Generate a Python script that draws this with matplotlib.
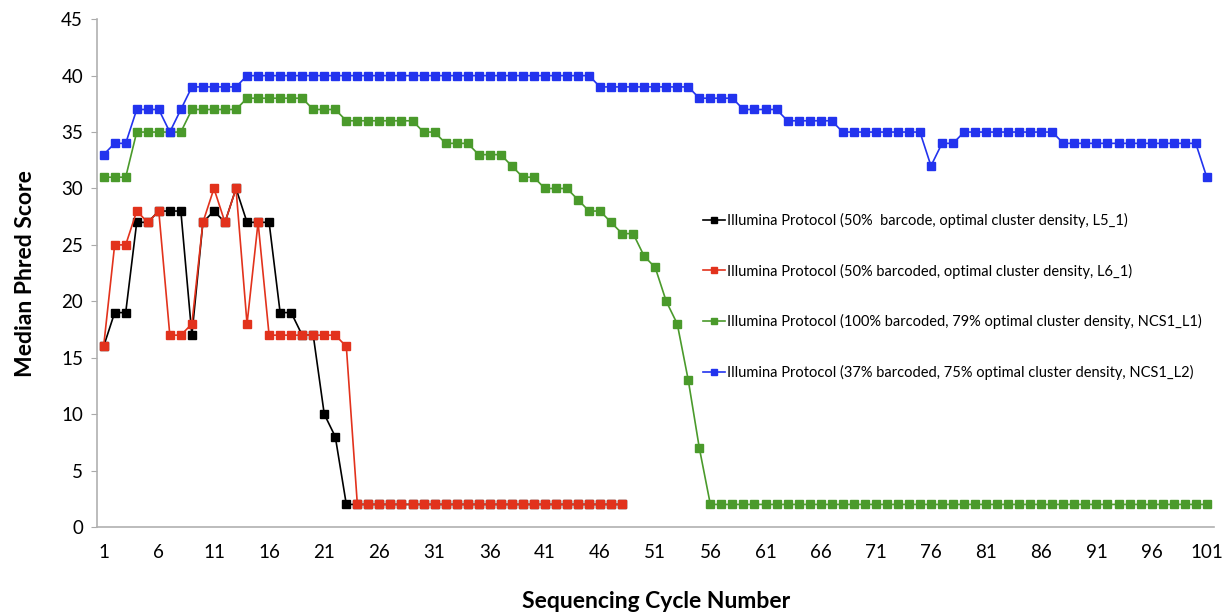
import numpy as np
import matplotlib; matplotlib.use("Agg")
import matplotlib.pyplot as plt

plt.rcParams["font.family"] = ["Lato", "DejaVu Sans"]

cycles = np.arange(1, 102)

# L5_1 (black) and L6_1 (red) stop at cycle 48
l5_1 = [16, 19, 19, 27, 27, 28, 28, 28, 17, 27, 28, 27, 30, 27, 27, 27, 19, 19, 17, 17,
        10, 8, 2] + [2] * 25
l6_1 = [16, 25, 25, 28, 27, 28, 17, 17, 18, 27, 30, 27, 30, 18, 27, 17, 17, 17, 17, 17,
        17, 17, 16] + [2] * 25
ncs1_l1 = ([31, 31, 31, 35, 35, 35, 35, 35, 37, 37, 37, 37, 37] + [38] * 6 + [37] * 3
           + [36] * 7 + [35, 35, 34, 34, 34, 33, 33, 33, 32, 31, 31, 30, 30, 30, 29, 28, 28,
                         27, 26, 26, 24, 23, 20, 18, 13, 7] + [2] * 46)
ncs1_l2 = ([33, 34, 34, 37, 37, 37, 35, 37, 39, 39, 39, 39, 39] + [40] * 32 + [39] * 9
           + [38] * 4 + [37] * 4 + [36] * 5 + [35] * 8 + [32, 34, 34] + [35] * 9
           + [34] * 13 + [31])

labels = ["Illumina Protocol (50%  barcode, optimal cluster density, L5_1)",
          "Illumina Protocol (50% barcoded, optimal cluster density, L6_1)",
          "Illumina Protocol (100% barcoded, 79% optimal cluster density, NCS1_L1)",
          "Illumina Protocol (37% barcoded, 75% optimal cluster density, NCS1_L2)"]
colors = ["#000000", "#e2321c", "#4a9a2b", "#2233ee"]
series = [l5_1, l6_1, ncs1_l1, ncs1_l2]

fig = plt.figure(figsize=(12.28, 6.14), dpi=100)
ax = fig.add_axes([0.079, 0.1417, 0.91, 0.827])

# draw order: blue, green, black, red (red on top like the original)
for i in (3, 2, 0, 1):
    ys = series[i]
    ax.plot(cycles[:len(ys)], ys, color=colors[i], lw=1.2, marker="s", ms=5.5,
            label=labels[i], zorder=3 + i)

ax.set_xlim(0.4, 101.7)
ax.set_ylim(0, 45)
ax.set_xticks(np.arange(1, 102, 5))
ax.set_yticks(np.arange(0, 46, 5))
ax.tick_params(axis="x", length=0, labelsize=13.5, pad=12)
ax.tick_params(axis="y", length=4, color="#aaaaaa", labelsize=13.5, pad=6)
for s in ("top", "right"):
    ax.spines[s].set_visible(False)
for s in ("left", "bottom"):
    ax.spines[s].set_color("#b0b0b0")
    ax.spines[s].set_linewidth(1.2)

ax.set_ylabel("Median Phred Score", fontsize=16.5, fontweight="bold", labelpad=18)
ax.set_xlabel("Sequencing Cycle Number", fontsize=16.5, fontweight="bold", labelpad=22)

handles, labs = ax.get_legend_handles_labels()
order = [labs.index(l) for l in labels]
leg = ax.legend([handles[k] for k in order], [labs[k] for k in order],
                loc="upper left", bbox_to_anchor=(0.562, 0.675),
                bbox_transform=fig.transFigure, frameon=False, fontsize=10.5,
                labelspacing=2.45, handlelength=1.5, handletextpad=0.15,
                markerscale=0.7)

fig.savefig("out.png", dpi=100)
